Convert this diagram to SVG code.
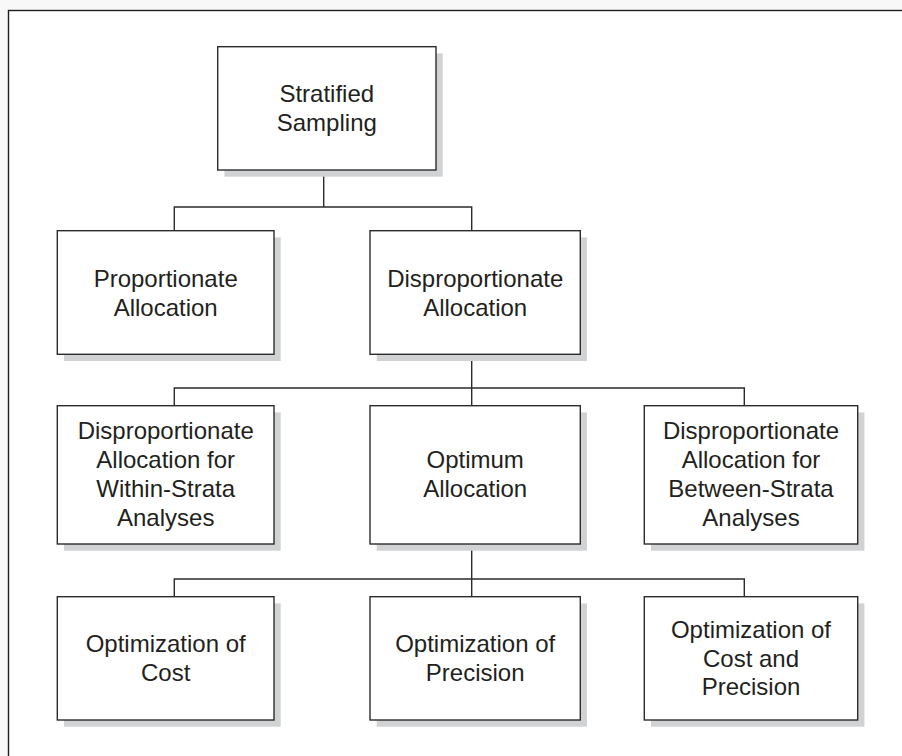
<svg xmlns="http://www.w3.org/2000/svg" width="902" height="756" viewBox="0 0 902 756">
<style>
.box{fill:#ffffff;stroke:#2b2b2b;stroke-width:1.4}
.sh{fill:#d1d2d4;stroke:none}
.t{font-family:"Liberation Sans",Arial,sans-serif;font-size:24px;fill:#231f20;text-anchor:middle}
.c{fill:none;stroke:#2b2b2b;stroke-width:1.4}
</style>
<rect x="0" y="0" width="902" height="756" fill="#f8f8f8"/>
<rect x="8.5" y="10.5" width="900" height="760" fill="#ffffff" stroke="#1e1e1e" stroke-width="1.4"/>
<g id="connectors">
<path class="c" d="M323.7,170 V207 M174.3,230.7 V207 H471.7 V230.7"/>
<path class="c" d="M471.7,354.3 V405.7 M174.3,405.7 V388 H744.3 V405.7"/>
<path class="c" d="M471.7,544 V596.7 M174.3,596.7 V579 H744.3 V596.7"/>
</g>
<g id="stratified">
<rect class="sh" x="224.4" y="53.4" width="218.3" height="123.3"/>
<rect class="box" x="217.7" y="46.7" width="218.3" height="123.3"/>
<text class="t" x="326.8" y="102">Stratified</text>
<text class="t" x="326.8" y="131">Sampling</text>
</g>
<g id="proportionate">
<rect class="sh" x="64" y="237.4" width="216.7" height="123.6"/>
<rect class="box" x="57.3" y="230.7" width="216.7" height="123.6"/>
<text class="t" x="165.7" y="286.5">Proportionate</text>
<text class="t" x="165.7" y="315.5">Allocation</text>
</g>
<g id="disproportionate">
<rect class="sh" x="376.7" y="237.4" width="210.3" height="123.6"/>
<rect class="box" x="370" y="230.7" width="210.3" height="123.6"/>
<text class="t" x="475.2" y="286.5">Disproportionate</text>
<text class="t" x="475.2" y="315.5">Allocation</text>
</g>
<g id="within">
<rect class="sh" x="64" y="412.4" width="216.7" height="138.3"/>
<rect class="box" x="57.3" y="405.7" width="216.7" height="138.3"/>
<text class="t" x="165.7" y="439">Disproportionate</text>
<text class="t" x="165.7" y="468">Allocation for</text>
<text class="t" x="165.7" y="497">Within-Strata</text>
<text class="t" x="165.7" y="526">Analyses</text>
</g>
<g id="optimum">
<rect class="sh" x="376.7" y="412.4" width="210.3" height="138.3"/>
<rect class="box" x="370" y="405.7" width="210.3" height="138.3"/>
<text class="t" x="475.2" y="468">Optimum</text>
<text class="t" x="475.2" y="497">Allocation</text>
</g>
<g id="between">
<rect class="sh" x="651" y="412.4" width="213.4" height="138.3"/>
<rect class="box" x="644.3" y="405.7" width="213.4" height="138.3"/>
<text class="t" x="751" y="439">Disproportionate</text>
<text class="t" x="751" y="468">Allocation for</text>
<text class="t" x="751" y="497">Between-Strata</text>
<text class="t" x="751" y="526">Analyses</text>
</g>
<g id="cost">
<rect class="sh" x="64" y="603.4" width="216.7" height="123.3"/>
<rect class="box" x="57.3" y="596.7" width="216.7" height="123.3"/>
<text class="t" x="165.7" y="651.5">Optimization of</text>
<text class="t" x="165.7" y="680.5">Cost</text>
</g>
<g id="precision">
<rect class="sh" x="376.7" y="603.4" width="210.3" height="123.3"/>
<rect class="box" x="370" y="596.7" width="210.3" height="123.3"/>
<text class="t" x="475.2" y="651.5">Optimization of</text>
<text class="t" x="475.2" y="680.5">Precision</text>
</g>
<g id="costprecision">
<rect class="sh" x="651" y="603.4" width="213.4" height="123.3"/>
<rect class="box" x="644.3" y="596.7" width="213.4" height="123.3"/>
<text class="t" x="751" y="638">Optimization of</text>
<text class="t" x="751" y="666.5">Cost and</text>
<text class="t" x="751" y="695">Precision</text>
</g>
</svg>
